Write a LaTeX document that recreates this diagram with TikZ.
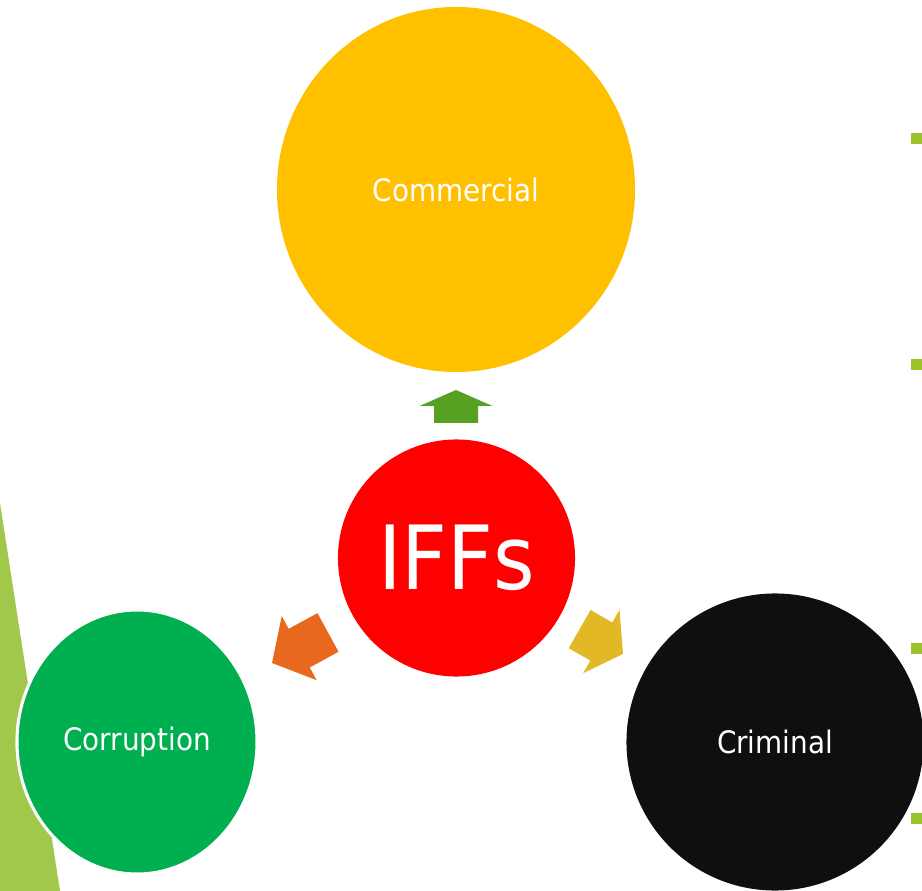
\documentclass[tikz,border=0pt]{standalone}
\usepackage{fontspec}
\setmainfont{DejaVu Sans Condensed}
\usepackage{xcolor}
\definecolor{Amber}{HTML}{FFC000}
\definecolor{Signal Red}{HTML}{FF0000}
\definecolor{Emerald}{HTML}{00B050}
\definecolor{Coal}{HTML}{0F0F0F}
\definecolor{Leaf}{HTML}{56A122}
\definecolor{Tangerine}{HTML}{E8691D}
\definecolor{Mustard}{HTML}{E3B826}
\definecolor{Lime}{HTML}{9AC42A}
\definecolor{Moss}{HTML}{A1C84B}
\usepackage{tikz}
\usetikzlibrary{shapes.geometric}
\tikzset{
	x=0.025cm,
	y=-0.025cm,
	bubble/.style={
		ellipse,
		inner sep=0pt,
		text=white,
		font=\fontsize{22}{26}\selectfont
	},
	bullet/.style={
		fill=Lime,
		inner sep=0pt,
		minimum size=0.275cm
	},
	pics/blockarrow/.style 2 args={
		code={
			\fill (0,0) -- (-#2,36.5) -- (-#2,22) -- (-#1,22) -- (-#1,-22)
				-- (-#2,-22) -- (-#2,-36.5) -- cycle;
		}
	}
}

\begin{document}
\begin{tikzpicture}
		\useasboundingbox (0,0) rectangle (922,891);
		\clip (0,0) rectangle (922,891);

		% side band
		\fill[Moss] (0,503) -- (60,891) -- (0,891) -- cycle;

		\node[bubble, fill=Amber, minimum width=8.95cm, minimum height=9.125cm] (comm) at (456,189.5) {Commercial};
		\node[bubble, fill=Signal Red, minimum size=5.925cm, font=\fontsize{63}{70}\selectfont] (iffs) at (456.5,558) {IFFs};
		\node[bubble, fill=Emerald, draw=white, line width=2.2pt, minimum width=6cm, minimum height=6.6cm] (corr) at (137,742) {Corruption};
		\node[bubble, fill=Coal, minimum size=7.425cm] (crim) at (775,742) {Criminal};

		% arrows out of the centre
		\pic[fill=Leaf, rotate=90] at (456,390) {blockarrow={33}{16}};
		\pic[fill=Tangerine, rotate=208.6] at (272,663) {blockarrow={63.8}{31}};
		\pic[fill=Mustard, rotate=-29.9] at (623,654) {blockarrow={50}{25}};

		\node[bullet] (b1) at (916.5,138.5) {};
		\node[bullet] (b2) at (916.5,364.5) {};
		\node[bullet] (b3) at (916.5,648.5) {};
		\node[bullet] (b4) at (916.5,818.5) {};
	\end{tikzpicture}
\end{document}
